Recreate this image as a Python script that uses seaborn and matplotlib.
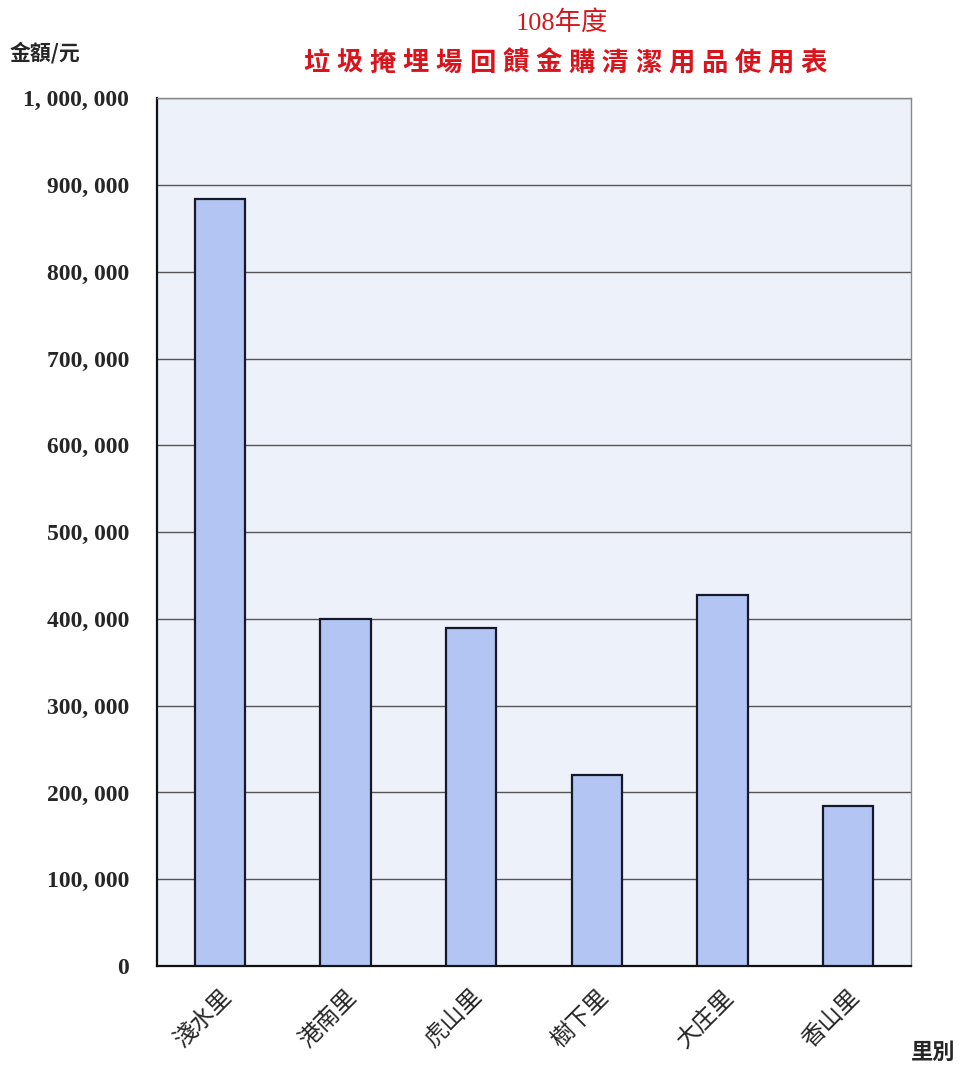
import numpy as np
import pandas as pd
import seaborn as sns
import matplotlib.pyplot as plt
from matplotlib.ticker import FuncFormatter, FixedLocator

# data
villages = ['淺水里', '港南里', '虎山里', '樹下里', '大庄里', '香山里']
amounts = [884000, 400000, 389000, 220000, 427000, 184000]
y_ticks = list(range(0, 1000001, 100000))
title_top = '108年度'
title_main = '垃圾掩埋場回饋金購清潔用品使用表'

df = pd.DataFrame({'village': villages, 'amount': amounts})

sns.set_style('white')
plt.rcParams['font.family'] = ['Noto Sans CJK TC', 'DejaVu Sans']

fig = plt.figure(figsize=(9.6, 10.68), dpi=100)
ax = fig.add_axes([0.1635, 0.0955, 0.7855, 0.8125])
ax.set_facecolor('#edf1fa')

sns.barplot(data=df, x='village', y='amount', ax=ax, color='#b3c5f2',
            edgecolor='#16182a', linewidth=1.6, width=0.4, saturation=1,
            zorder=3)

ax.set_xlim(-0.5, len(villages) - 0.5)
ax.set_ylim(0, 1000000)
ax.yaxis.set_major_locator(FixedLocator(y_ticks))
ax.yaxis.set_major_formatter(FuncFormatter(lambda v, p: f'{int(v):,}'.replace(',', ', ')))
ax.grid(axis='y', color='#555555', linewidth=1.0, zorder=1)
ax.set_axisbelow(True)

for lab in ax.get_yticklabels():
    lab.set_fontfamily('Liberation Serif')
    lab.set_fontweight('bold')
    lab.set_fontsize(17)
ax.tick_params(axis='y', length=0, pad=20)

ax.set_xticks(range(len(villages)))
ax.set_xticklabels(villages, rotation=45, ha='right', rotation_mode='anchor',
                   fontsize=17)
ax.tick_params(axis='x', which='major', length=0, pad=14)
ax.set_xticks(np.arange(0.5, len(villages) - 0.5, 1), minor=True)
ax.tick_params(axis='x', which='minor', direction='in', length=6, width=1, color='#222222')

ax.set_xlabel('')
ax.set_ylabel('')

for side in ['left', 'bottom']:
    ax.spines[side].set_color('#111111')
    ax.spines[side].set_linewidth(1.6)
for side in ['top', 'right']:
    ax.spines[side].set_color('#888888')
    ax.spines[side].set_linewidth(1.0)

# titles (main title is letter-spaced like the original)
fig.text(0.585, 0.979, title_top, color='#d8141c', fontsize=19,
         ha='center', va='center', family=['Liberation Serif', 'Noto Sans CJK TC'])
x0, step = 316 / 960, 33.2 / 960
for i, ch in enumerate(title_main):
    fig.text(x0 + i * step, 0.941, ch, color='#d8141c', fontsize=19,
             ha='center', va='center', fontweight='bold')

fig.text(0.010, 0.951, '金額/元', fontsize=15, ha='left', va='center',
         fontweight='bold')
fig.text(0.995, 0.004, '里別', fontsize=16, ha='right', va='bottom',
         fontweight='bold')

fig.savefig('out.png', dpi=100)
